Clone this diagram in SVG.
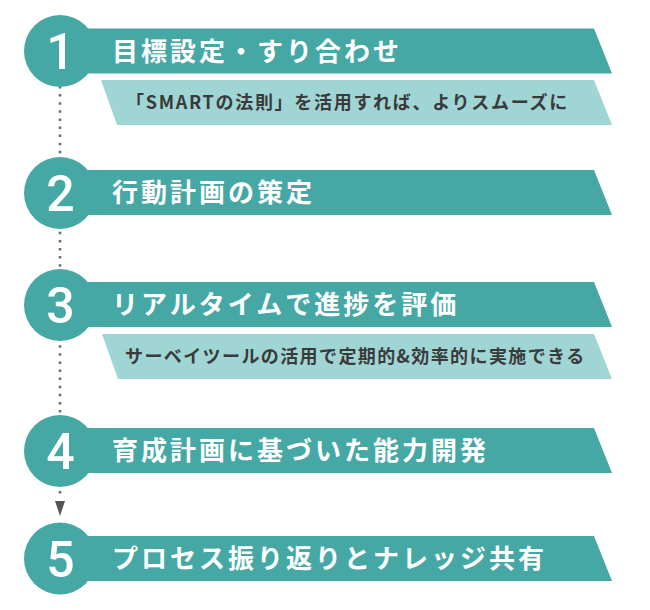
<svg xmlns="http://www.w3.org/2000/svg" width="650" height="610" viewBox="0 0 650 610">
<style>
.band{fill:#46a8a5}
.sub{fill:#a0d5d5}
.num{font-family:Roboto,"Liberation Sans",sans-serif;font-weight:500;font-size:50px;fill:#ffffff;text-anchor:middle}
.ttl{font-family:"Noto Sans CJK JP","Noto Sans",sans-serif;font-weight:700;font-size:26px;letter-spacing:3px;fill:#ffffff}
.st{font-family:"Noto Sans CJK JP","Noto Sans",sans-serif;font-weight:700;font-size:18px;letter-spacing:1.5px;fill:#3a3a3a}
</style>
<rect width="650" height="610" fill="#ffffff"/>
<g id="connectors">
<line x1="60" y1="86" x2="60" y2="496" stroke="#6b6b6b" stroke-width="2.5" stroke-dasharray="2.5 5.6"/>
<polygon points="55,501 65,501 60,516" fill="#555555"/>
</g>
<g id="step1">
<polygon class="band" points="60,28.5 594,28.5 612,73.5 60,73.5"/>
<circle class="band" cx="60" cy="51" r="36"/>
<text class="num" x="60.5" y="69">1</text>
<text class="ttl" x="112" y="60.5">目標設定・すり合わせ</text>
</g>
<g id="step1-note">
<polygon class="sub" points="101,80 594,80 612,125 117,125"/>
<text class="st" x="126" y="108.5" style="letter-spacing:1.7px">「SMARTの法則」を活用すれば、よりスムーズに</text>
</g>
<g id="step2">
<polygon class="band" points="60,170 594,170 612,215 60,215"/>
<circle class="band" cx="60" cy="193" r="36"/>
<text class="num" x="60.5" y="211">2</text>
<text class="ttl" x="112" y="202">行動計画の策定</text>
</g>
<g id="step3">
<polygon class="band" points="60,282 594,282 612,327 60,327"/>
<circle class="band" cx="60" cy="305" r="36"/>
<text class="num" x="60.5" y="323">3</text>
<text class="ttl" x="112" y="314">リアルタイムで進捗を評価</text>
</g>
<g id="step3-note">
<polygon class="sub" points="102,334 594,334 612,379 118,379"/>
<text class="st" x="125" y="362.5" style="letter-spacing:1.4px">サーベイツールの活用で定期的&amp;効率的に実施できる</text>
</g>
<g id="step4">
<polygon class="band" points="60,428 594,428 612,473 60,473"/>
<circle class="band" cx="60" cy="451" r="36"/>
<text class="num" x="60.5" y="469">4</text>
<text class="ttl" x="112" y="460">育成計画に基づいた能力開発</text>
</g>
<g id="step5">
<polygon class="band" points="60,536 594,536 612,581 60,581"/>
<circle class="band" cx="60" cy="558.5" r="36"/>
<text class="num" x="60.5" y="576.5">5</text>
<text class="ttl" x="112" y="568">プロセス振り返りとナレッジ共有</text>
</g>
</svg>
